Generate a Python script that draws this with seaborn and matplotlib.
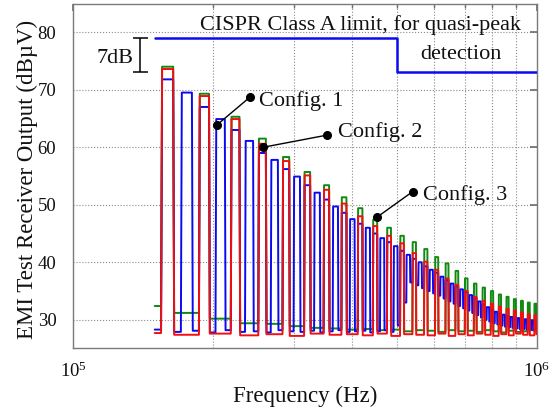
import matplotlib
matplotlib.use("Agg")
import numpy as np
import pandas as pd
import seaborn as sns
import matplotlib.pyplot as plt
from matplotlib.ticker import NullFormatter

# ---- harmonic frequencies (kHz) ----
harm32_khz = [160, 192, 224, 256, 288, 320, 352, 384, 416, 448, 480, 512, 544, 576,
              608, 640, 672, 704, 736, 768, 800, 832, 864, 896, 928, 960, 992]
harm16_khz = [160, 176, 192, 208, 224, 240, 256, 272, 288, 304, 320, 336, 352, 368,
              384, 400, 416, 432, 448, 464, 480, 496, 512, 528, 544, 560, 576, 592,
              608, 624, 640, 656, 672, 688, 704, 720, 736, 752, 768, 784, 800, 816,
              832, 848, 864, 880, 896, 912, 928, 944, 960, 976, 992]

# ---- quasi-peak levels at each harmonic (dBuV) ----
config1_peak = [71.8, 69.5, 67.0, 64.9, 63.0, 61.1, 59.0, 57.8, 56.2, 54.9, 53.4, 52.1,
                50.9, 49.7, 48.6, 47.5, 46.7, 46.0, 45.0, 44.2, 43.5, 42.8, 42.0, 41.3,
                40.6, 40.0, 39.3, 38.7, 38.2, 37.5, 36.9, 36.3, 35.8, 35.3, 34.8, 34.3,
                33.8, 33.2, 32.7, 32.2, 31.8, 31.4, 31.1, 30.9, 30.7, 30.5, 30.4, 30.3,
                30.2, 30.1, 30.0, 29.9, 29.8]
config2_peak = [73.6, 68.9, 64.9, 60.6, 57.6, 55.1, 52.6, 50.2, 48.0, 46.3, 44.6, 43.3,
                41.6, 40.1, 38.7, 37.2, 36.1, 35.0, 34.0, 33.3, 32.8, 32.3, 31.9, 31.6,
                31.3, 31.0, 30.8]
config3_peak = [74.0, 69.3, 65.3, 61.5, 58.3, 55.7, 53.4, 51.3, 49.4, 47.4, 46.0, 44.6,
                43.5, 42.3, 40.9, 39.8, 38.5, 37.2, 36.3, 35.6, 35.0, 34.4, 34.0, 33.6,
                33.3, 33.0, 32.8]

# ---- floor level in each gap: before the first harmonic, then after each one ----
config1_floor = [28.3, 27.9, 28.1, 27.8, 28.2, 27.9, 28.0, 27.8, 28.2, 28.0, 27.9, 28.1,
                 27.8, 28.0, 28.2, 27.9, 28.0, 28.1, 27.8, 28.0, 28.2, 27.9,
                 29.0, 33.0, 36.5, 36.0, 35.5, 35.0, 34.6, 34.2, 33.7, 33.2, 32.8, 32.4,
                 32.0, 31.6, 31.2, 30.8, 30.4, 30.0, 29.7, 29.4, 29.2, 29.0, 28.8, 28.7,
                 28.6, 28.5, 28.4, 28.4, 28.3, 28.3, 28.2, 28.2]
config2_floor = [27.7, 27.4, 27.6, 27.3, 27.5, 27.2, 27.6, 27.4, 27.5, 27.3, 27.6, 27.2,
                 27.5, 27.4, 27.3, 27.6, 27.2, 27.5, 27.3, 27.6, 27.4, 27.2, 27.5, 27.3,
                 27.6, 27.4, 27.3, 27.5]
config3_floor = [32.4, 31.2, 30.2, 29.4, 29.3, 28.9, 28.6, 28.5, 28.3, 28.4, 28.2, 28.3,
                 28.0, 28.2, 28.1, 27.9, 28.2, 28.0, 28.1, 27.9, 28.2, 28.0, 27.8, 28.1,
                 27.9, 28.0, 28.2, 28.0]

# ---- CISPR 22 class A quasi-peak limit ----
limit_freq_khz = [150, 500, 500, 1000]
limit_level = [79, 79, 73, 73]

sweep_start_khz, sweep_stop_khz = 150, 1000
rbw_half_top, rbw_half_base = 4.4, 5.2   # plateau half-widths of the 9 kHz receiver bandwidth


def receiver_trace(freqs, peaks, floors):
    """Each harmonic shows as a flat-topped plateau one receiver bandwidth wide."""
    xs, ys = [sweep_start_khz], [floors[0]]
    for i, (f, p) in enumerate(zip(freqs, peaks)):
        xs += [f - rbw_half_base, f - rbw_half_top, f + rbw_half_top, f + rbw_half_base]
        ys += [floors[i], p, p, floors[i + 1]]
    xs.append(sweep_stop_khz)
    ys.append(floors[-1])
    return np.array(xs) * 1e3, np.array(ys)


frames = []
for name, fr, pk, fl in [("Config. 3", harm32_khz, config3_peak, config3_floor),
                         ("Config. 1", harm16_khz, config1_peak, config1_floor),
                         ("Config. 2", harm32_khz, config2_peak, config2_floor)]:
    x, y = receiver_trace(fr, pk, fl)
    frames.append(pd.DataFrame({"freq": x, "level": y, "config": name}))
traces = pd.concat(frames, ignore_index=True)

sns.set_theme(style="white")
plt.rcParams["font.family"] = ["Liberation Serif", "DejaVu Serif"]
plt.rcParams["mathtext.fontset"] = "custom"
plt.rcParams["mathtext.rm"] = "Liberation Serif"
plt.rcParams["mathtext.it"] = "Liberation Serif:italic"
plt.rcParams["mathtext.bf"] = "Liberation Serif:bold"

fig = plt.figure(figsize=(5.6, 4.12), dpi=100)
ax = fig.add_axes([73 / 560, 1 - 348 / 412, 464 / 560, 344 / 412])
ax.set_xscale("log")

palette = {"Config. 1": "#0a0af0", "Config. 2": "#f01010", "Config. 3": "#108a10"}
sns.lineplot(data=traces, x="freq", y="level", hue="config",
             hue_order=["Config. 3", "Config. 1", "Config. 2"], palette=palette,
             units="config", estimator=None, sort=False, linewidth=1.4,
             legend=False, ax=ax, zorder=3)

sns.lineplot(x=np.array(limit_freq_khz) * 1e3, y=limit_level, sort=False,
             estimator=None, color="#0a0af0", linewidth=1.8, ax=ax, zorder=3)

ax.set_xlim(1e5, 1e6)
ax.set_ylim(25.1, 84.9)
ax.set_yticks([30, 40, 50, 60, 70, 80])
ax.set_xticks([1e5, 1e6])
ax.xaxis.set_minor_formatter(NullFormatter())

# grid: dotted, decade subdivisions in x
ax.grid(True, which="major", axis="y", ls=":", color="#8a8a8a", lw=0.8, zorder=0)
ax.grid(True, which="minor", axis="x", ls=":", color="#8a8a8a", lw=0.8, zorder=0)
ax.tick_params(axis="both", which="both", direction="in", top=True, right=True,
               color="#707070", labelcolor="#111111")
ax.tick_params(axis="x", which="major", length=5, pad=10, labelsize=13.5)
ax.tick_params(axis="x", which="minor", length=3)
ax.tick_params(axis="y", which="major", length=5, pad=12, labelsize=13.5)
for s in ax.spines.values():
    s.set_color("#7a7a7a")
    s.set_linewidth(1.0)

ax.set_xlabel("Frequency (Hz)", fontsize=16.5, color="#111111")
ax.set_ylabel("EMI Test Receiver Output (dBµV)", fontsize=16.5, color="#111111")
ax.xaxis.label.set_va("center")
ax.yaxis.label.set_va("center")
ax.xaxis.set_label_coords(0.5, -0.14)
ax.yaxis.set_label_coords(-0.099, 0.49)

# limit description
ax.text(187.8e3, 80.35, "CISPR Class A limit, for quasi-peak", fontsize=16,
        ha="left", va="baseline", color="#111111")
ax.text(684e3, 75.4, "detection", fontsize=16, ha="center", va="baseline",
        color="#111111")

# 7 dB step between the two limit levels
ax.errorbar(139.5e3, (limit_level[0] + limit_level[2]) / 2,
            yerr=(limit_level[0] - limit_level[2]) / 2, color="black", lw=1.1,
            capsize=5.4, capthick=1.1, zorder=4)
ax.text(135.3e3, 74.56, "7dB", fontsize=16, ha="right", va="baseline", color="#111111")

# callouts
callouts = [
    ("Config. 1", (204.4e3, 63.9), (240.6e3, 68.7), (252e3, 67.15)),
    ("Config. 2", (257.1e3, 60.0), (352.3e3, 62.1), (373e3, 61.8)),
    ("Config. 3", (451.3e3, 47.8), (539.8e3, 52.3), (567e3, 50.8)),
]
for label, p_on, p_end, p_txt in callouts:
    ax.plot([p_on[0], p_end[0]], [p_on[1], p_end[1]], color="black", lw=1.0, zorder=5)
    ax.plot([p_on[0], p_end[0]], [p_on[1], p_end[1]], ls="none", marker="o",
            ms=5.5, color="black", zorder=5)
    ax.text(p_txt[0], p_txt[1], label, fontsize=16, ha="left", va="baseline",
            color="#111111", zorder=5)

fig.savefig("out.png", dpi=100, facecolor="white")
